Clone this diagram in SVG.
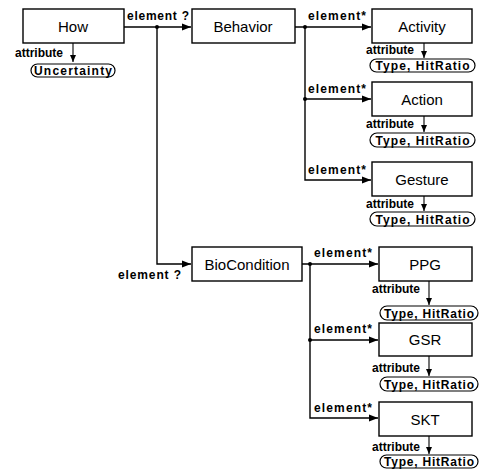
<svg xmlns="http://www.w3.org/2000/svg" width="480" height="470" viewBox="0 0 480 470">
<style>
.box{fill:#fff;stroke:#000;stroke-width:1.4}
.pill{fill:#fff;stroke:#000;stroke-width:1.2}
.nt{font-family:"Liberation Sans",Arial,sans-serif;font-size:15px;text-anchor:middle;fill:#000}
.pt{font-family:"Liberation Sans",Arial,sans-serif;font-size:12px;font-weight:bold;text-anchor:middle;fill:#000}
.lb{font-family:"Liberation Sans",Arial,sans-serif;font-size:12px;font-weight:bold;fill:#000}
.ln{fill:none;stroke:#000;stroke-width:1.4}
.at{fill:none;stroke:#000;stroke-width:1.1}
</style>
<defs>
<marker id="arr" markerWidth="10" markerHeight="8" refX="9" refY="4" orient="auto" markerUnits="userSpaceOnUse">
<path d="M0,0.5 L9,4 L0,7.5 z" fill="#000"/>
</marker>
<marker id="arrs" markerWidth="8" markerHeight="8" refX="7" refY="3.5" orient="auto" markerUnits="userSpaceOnUse">
<path d="M0,0.5 L7,3.5 L0,6.5 z" fill="#000"/>
</marker>
</defs>
<g id="connectors">
<path class="ln" d="M124,27 H191" marker-end="url(#arr)"/>
<path class="ln" d="M157,27 V264 H191" marker-end="url(#arr)"/>
<circle cx="157" cy="27" r="2" fill="#000"/>
<text class="lb" x="127" y="20" textLength="62" lengthAdjust="spacing">element ?</text>
<text class="lb" x="118" y="279" textLength="63" lengthAdjust="spacing">element ?</text>
<path class="ln" d="M295,27 H371" marker-end="url(#arr)"/>
<path class="ln" d="M305,27 V180 H371" marker-end="url(#arr)"/>
<path class="ln" d="M305,99 H371" marker-end="url(#arr)"/>
<circle cx="305" cy="27" r="2" fill="#000"/>
<circle cx="305" cy="99" r="2" fill="#000"/>
<text class="lb" x="308" y="20" textLength="58" lengthAdjust="spacing">element*</text>
<text class="lb" x="308" y="93" textLength="58" lengthAdjust="spacing">element*</text>
<text class="lb" x="308" y="174" textLength="58" lengthAdjust="spacing">element*</text>
<path class="ln" d="M302,264 H378" marker-end="url(#arr)"/>
<path class="ln" d="M310,264 V418 H378" marker-end="url(#arr)"/>
<path class="ln" d="M310,340 H378" marker-end="url(#arr)"/>
<circle cx="310" cy="264" r="2" fill="#000"/>
<circle cx="310" cy="340" r="2" fill="#000"/>
<text class="lb" x="314" y="257" textLength="58" lengthAdjust="spacing">element*</text>
<text class="lb" x="314" y="333" textLength="58" lengthAdjust="spacing">element*</text>
<text class="lb" x="314" y="412" textLength="58" lengthAdjust="spacing">element*</text>
</g>
<g id="how">
<rect class="box" x="23" y="9" width="101" height="34"/>
<text class="nt" x="73" y="31.5">How</text>
<path class="at" d="M73,43 V62" marker-end="url(#arrs)"/>
<text class="lb" x="15" y="57" textLength="48" lengthAdjust="spacing">attribute</text>
<rect class="pill" x="31" y="64" width="84" height="13" rx="6.5"/>
<text class="pt" x="73" y="75" textLength="78" lengthAdjust="spacing">Uncertainty</text>
</g>
<g id="behavior">
<rect class="box" x="192" y="9" width="103" height="34"/>
<text class="nt" x="243" y="31.5">Behavior</text>
</g>
<g id="activity">
<rect class="box" x="372" y="9" width="100" height="34"/>
<text class="nt" x="422" y="31.5">Activity</text>
<path class="at" d="M424,43 V58" marker-end="url(#arrs)"/>
<text class="lb" x="366" y="54" textLength="48" lengthAdjust="spacing">attribute</text>
<rect class="pill" x="370" y="59" width="105" height="13" rx="6.5"/>
<text class="pt" x="422.5" y="70" textLength="94" lengthAdjust="spacing">Type, HitRatio</text>
</g>
<g id="action">
<rect class="box" x="372" y="82" width="100" height="34"/>
<text class="nt" x="422" y="104.5">Action</text>
<path class="at" d="M424,116 V132" marker-end="url(#arrs)"/>
<text class="lb" x="366" y="128" textLength="48" lengthAdjust="spacing">attribute</text>
<rect class="pill" x="370" y="133" width="105" height="14" rx="7"/>
<text class="pt" x="422.5" y="144.5" textLength="94" lengthAdjust="spacing">Type, HitRatio</text>
</g>
<g id="gesture">
<rect class="box" x="372" y="162" width="100" height="34"/>
<text class="nt" x="422" y="184.5">Gesture</text>
<path class="at" d="M424,196 V211" marker-end="url(#arrs)"/>
<text class="lb" x="366" y="208" textLength="48" lengthAdjust="spacing">attribute</text>
<rect class="pill" x="370" y="212" width="105" height="14" rx="7"/>
<text class="pt" x="422.5" y="223.5" textLength="94" lengthAdjust="spacing">Type, HitRatio</text>
</g>
<g id="biocondition">
<rect class="box" x="192" y="247" width="110" height="34"/>
<text class="nt" x="247" y="269.5">BioCondition</text>
</g>
<g id="ppg">
<rect class="box" x="379" y="247" width="93" height="34"/>
<text class="nt" x="425" y="269.5">PPG</text>
<path class="at" d="M429,281 V305" marker-end="url(#arrs)"/>
<text class="lb" x="372" y="293" textLength="48" lengthAdjust="spacing">attribute</text>
<rect class="pill" x="380" y="306" width="98" height="14" rx="7"/>
<text class="pt" x="429" y="317.5" textLength="90" lengthAdjust="spacing">Type, HitRatio</text>
</g>
<g id="gsr">
<rect class="box" x="379" y="323" width="93" height="33"/>
<text class="nt" x="425" y="345">GSR</text>
<path class="at" d="M429,356 V376" marker-end="url(#arrs)"/>
<text class="lb" x="372" y="372" textLength="48" lengthAdjust="spacing">attribute</text>
<rect class="pill" x="380" y="377" width="98" height="14" rx="7"/>
<text class="pt" x="429" y="388.5" textLength="90" lengthAdjust="spacing">Type, HitRatio</text>
</g>
<g id="skt">
<rect class="box" x="379" y="402" width="93" height="34"/>
<text class="nt" x="425" y="424.5">SKT</text>
<path class="at" d="M429,436 V454" marker-end="url(#arrs)"/>
<text class="lb" x="372" y="451" textLength="48" lengthAdjust="spacing">attribute</text>
<rect class="pill" x="380" y="455" width="98" height="13" rx="6.5"/>
<text class="pt" x="429" y="466" textLength="90" lengthAdjust="spacing">Type, HitRatio</text>
</g>
</svg>
